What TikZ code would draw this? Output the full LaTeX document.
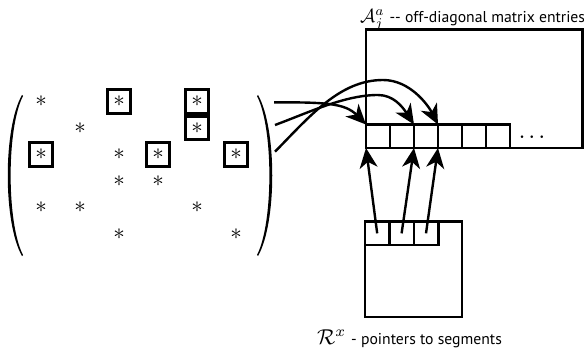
\documentclass[tikz,border=0pt]{standalone}
\usepackage{graphicx}
\usepackage{fontspec}
\newfontfamily\labfont{PT Sans}
\usetikzlibrary{arrows.meta}
\newcommand{\bigast}{\scalebox{2.3}{$\ast$}}
\begin{document}
\begin{tikzpicture}[x=1pt,y=-1pt,
  starnode/.style={inner sep=0pt},
  boxed/.style={starnode, draw, line width=2.6pt, minimum size=23.5pt},
  cell/.style={draw, line width=2.6pt, inner sep=0pt, outer sep=0pt, minimum width=24pt, minimum height=23.5pt},
  lcell/.style={draw, line width=2.6pt, inner sep=0pt, outer sep=0pt, minimum width=24.4pt, minimum height=23.3pt},
  panel/.style={draw, line width=2.6pt, inner sep=0pt, outer sep=0pt},
  ptr/.style={line width=2.4pt, -{Stealth[length=20pt,width=18pt,inset=6pt]}},
  labtext/.style={anchor=base west, inner sep=0pt}
]
\useasboundingbox (0,0) rectangle (584,353);

% matrix parentheses
\fill (22,95) .. controls (3,128) and (3,223) .. (22,256) -- (23,255) .. controls (6.5,223) and (6.5,128) .. (23,96) -- cycle;
\fill (258,95) .. controls (277,128) and (277,223) .. (258,256) -- (257,255) .. controls (273.5,223) and (273.5,128) .. (257,96) -- cycle;

% matrix entries
\node[starnode] (s11) at (41,101.5) {\bigast};
\node[boxed]    (s13) at (119,101.5) {\bigast};
\node[boxed]    (s15) at (197,101.5) {\bigast};
\node[starnode] (s22) at (80,128) {\bigast};
\node[boxed]    (s25) at (197,128) {\bigast};
\node[boxed]    (s31) at (41,154.5) {\bigast};
\node[starnode] (s33) at (119,154.5) {\bigast};
\node[boxed]    (s34) at (158,154.5) {\bigast};
\node[boxed]    (s36) at (236,154.5) {\bigast};
\node[starnode] (s43) at (119,181) {\bigast};
\node[starnode] (s44) at (158,181) {\bigast};
\node[starnode] (s51) at (41,207.5) {\bigast};
\node[starnode] (s52) at (80,207.5) {\bigast};
\node[starnode] (s55) at (197,207.5) {\bigast};
\node[starnode] (s63) at (119,234) {\bigast};
\node[starnode] (s66) at (236,234) {\bigast};

% off-diagonal entries panel
\node[panel, minimum width=216.5pt, minimum height=118.5pt] (A) at (474.25,88.75) {};
\node[cell] (c1) at (378,136.25) {};
\node[cell] (c2) at (402,136.25) {};
\node[cell] (c3) at (426,136.25) {};
\node[cell] (c4) at (450,136.25) {};
\node[cell] (c5) at (474,136.25) {};
\node[cell] (c6) at (498,136.25) {};
\node[anchor=base, inner sep=0pt, font=\fontsize{32}{32}\selectfont] (dots) at (532,138.4) {.\kern1.9pt.\kern1.9pt.};

% pointer panel
\node[panel, minimum width=97pt, minimum height=95.3pt] (R) at (413.5,269.35) {};
\node[lcell] (r1) at (377.2,233.35) {};
\node[lcell] (r2) at (401.6,233.35) {};
\node[lcell] (r3) at (426.0,233.35) {};

% labels
\node[labtext] (la) at (360,22.5) {\scalebox{1.9}{$\mathcal{A}_j^a$}\hspace{5pt}\labfont\fontsize{15.7}{15.7}\selectfont -{}- off-diagonal matrix entries};
\node[labtext] (lr) at (317,344) {\scalebox{2.15}{$\mathcal{R}^x$}\hspace{5pt}\labfont\fontsize{15.7}{15.7}\selectfont - pointers to segments};

% arrows from matrix
\coordinate (m1) at (274,102.3);
\coordinate (m2) at (275,125);
\coordinate (m3) at (275,151.7);
\draw[ptr] (m1) .. controls (325,102.3) and (345,103) .. (c1.north west);
\draw[ptr] (m2) .. controls (310,112) and (345,95) .. (378,95) .. controls (393,95) and (402,106) .. (c3.north west);
\draw[ptr] (m3) .. controls (310,116) and (340,80) .. (383,80) .. controls (410,80) and (428,105) .. (c4.north west);

% arrows from pointer cells
\draw[ptr] (r1.center) -- (c1.south west);
\draw[ptr] (r2.center) -- (c3.south west);
\draw[ptr] (r3.center) -- (c4.south west);
\end{tikzpicture}
\end{document}
